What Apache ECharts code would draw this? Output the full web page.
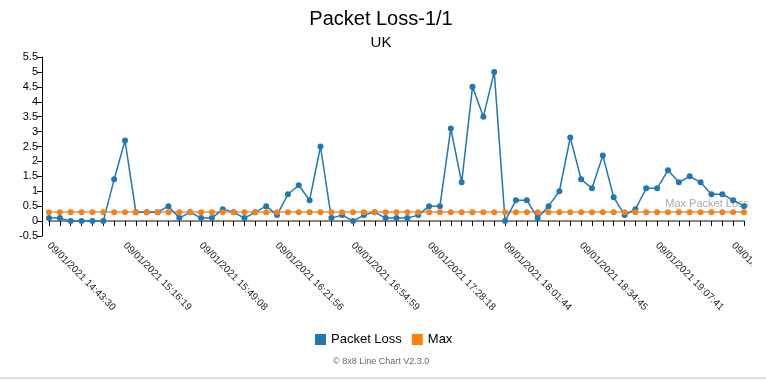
<!DOCTYPE html>
<html>
<head>
<meta charset="utf-8">
<script src="https://cdn.jsdelivr.net/npm/echarts@6/dist/echarts.min.js"></script>
<style>html,body{margin:0;padding:0;background:#fff;}#c{width:766px;height:382px;}</style>
</head>
<body>
<div id="c"></div>
<script>
var times = [
 '09/01/2021 14:43:30','09/01/2021 14:48:11','09/01/2021 14:52:53','09/01/2021 14:57:34','09/01/2021 15:02:15','09/01/2021 15:06:57','09/01/2021 15:11:38',
 '09/01/2021 15:16:19','09/01/2021 15:21:00','09/01/2021 15:25:42','09/01/2021 15:30:23','09/01/2021 15:35:04','09/01/2021 15:39:46','09/01/2021 15:44:27',
 '09/01/2021 15:49:08','09/01/2021 15:53:49','09/01/2021 15:58:30','09/01/2021 16:03:12','09/01/2021 16:07:53','09/01/2021 16:12:34','09/01/2021 16:17:15',
 '09/01/2021 16:21:56','09/01/2021 16:26:39','09/01/2021 16:31:23','09/01/2021 16:36:06','09/01/2021 16:40:50','09/01/2021 16:45:33','09/01/2021 16:50:16',
 '09/01/2021 16:54:59','09/01/2021 16:59:45','09/01/2021 17:04:30','09/01/2021 17:09:16','09/01/2021 17:14:01','09/01/2021 17:18:47','09/01/2021 17:23:32',
 '09/01/2021 17:28:18','09/01/2021 17:33:05','09/01/2021 17:37:51','09/01/2021 17:42:38','09/01/2021 17:47:24','09/01/2021 17:52:11','09/01/2021 17:56:58',
 '09/01/2021 18:01:44','09/01/2021 18:06:27','09/01/2021 18:11:10','09/01/2021 18:15:53','09/01/2021 18:20:36','09/01/2021 18:25:19','09/01/2021 18:30:02',
 '09/01/2021 18:34:45','09/01/2021 18:39:27','09/01/2021 18:44:10','09/01/2021 18:48:52','09/01/2021 18:53:34','09/01/2021 18:58:17','09/01/2021 19:02:59',
 '09/01/2021 19:07:41','09/01/2021 19:12:23','09/01/2021 19:17:05','09/01/2021 19:21:47','09/01/2021 19:26:29','09/01/2021 19:31:11','09/01/2021 19:35:53',
 '09/01/2021 19:40:35','09/01/2021 19:45:17'
];
var packetLoss = [
 0.1,0.1,0,0,0,0,1.4,
 2.7,0.3,0.3,0.3,0.5,0.1,0.3,
 0.1,0.1,0.4,0.3,0.1,0.3,0.5,
 0.2,0.9,1.2,0.7,2.5,0.1,0.2,
 0,0.2,0.3,0.1,0.1,0.1,0.2,
 0.5,0.5,3.1,1.3,4.5,3.5,5.0,
 0,0.7,0.7,0.1,0.5,1.0,2.8,
 1.4,1.1,2.2,0.8,0.2,0.4,1.1,
 1.1,1.7,1.3,1.5,1.3,0.9,0.9,
 0.7,0.5
];
var maxValue = 0.3;
var maxSeries = times.map(function(){ return maxValue; });
var yMin = -0.5, yMax = 5.5, yStep = 0.5;

var FONT = 'Liberation Sans, Arial, sans-serif';
var chart = echarts.init(document.getElementById('c'), null, {renderer:'canvas'});
chart.setOption({
  animation: false,
  backgroundColor: '#fff',
  textStyle: {fontFamily: FONT},
  title: {
    text: 'Packet Loss-1/1',
    subtext: 'UK',
    left: 376, textAlign: 'center', top: 4,
    itemGap: 6,
    textStyle: {fontSize: 20, fontWeight: 'normal', color: '#000', fontFamily: FONT},
    subtextStyle: {fontSize: 15, color: '#000', fontFamily: FONT}
  },
  legend: {
    data: ['Packet Loss','Max'],
    left: 310, top: 328,
    itemWidth: 11, itemHeight: 11, itemGap: 10, icon: 'rect',
    textStyle: {fontSize: 13, color: '#000', fontFamily: FONT}
  },
  grid: {left: 49, right: 22, top: 57, bottom: 146, containLabel: false, outerBoundsMode: 'none'},
  xAxis: {
    type: 'category', data: times, boundaryGap: false,
    axisLine: {lineStyle: {color: '#888', width: 2}},
    axisTick: {show: true, interval: 0, length: 5, lineStyle: {color: '#000'}},
    axisLabel: {interval: 6, rotate: -45, fontSize: 10, color: '#222', margin: 8, fontFamily: FONT, hideOverlap: false},
    splitLine: {show: false}
  },
  yAxis: {
    type: 'value', min: yMin, max: yMax, interval: yStep, offset: 7,
    axisLine: {show: true, lineStyle: {color: '#000', width: 1}},
    axisTick: {show: true, length: 5, lineStyle: {color: '#000'}},
    axisLabel: {fontSize: 11, color: '#000', margin: 4, fontFamily: FONT},
    splitLine: {show: false}
  },
  series: [
    {
      name: 'Packet Loss', type: 'line', data: packetLoss,
      color: '#1f77b4', symbol: 'circle', symbolSize: 6, showAllSymbol: true,
      lineStyle: {width: 1.5, color: '#1f77b4'},
      itemStyle: {color: '#1f77b4'}, z: 2, clip: false
    },
    {
      name: 'Max', type: 'line', data: maxSeries, clip: false,
      color: '#ff7f0e', symbol: 'circle', symbolSize: 6, showAllSymbol: true,
      lineStyle: {width: 0, opacity: 0},
      itemStyle: {color: '#ff7f0e'}, z: 3,
      markLine: {
        silent: true, symbol: 'none', z: 1,
        lineStyle: {color: '#c8b8a8', width: 2, type: 'solid'},
        label: {show: true, position: 'insideEndTop', formatter: 'Max Packet Loss', color: '#aaa', fontSize: 11, distance: [-5, 3], overflow: 'none', width: 120},
        data: [{yAxis: maxValue}]
      }
    }
  ],
  graphic: [
    {type: 'rect', left: 752, top: 238, shape: {width: 14, height: 90}, style: {fill: '#fff'}, z: 100},
    {type: 'text', left: 333, top: 357, style: {text: '\u00a9 8x8 Line Chart V2.3.0', fill: '#666', fontSize: 9, fontFamily: FONT}, z: 100},
    {type: 'rect', left: 0, top: 377, shape: {width: 766, height: 2}, style: {fill: '#ddd'}, z: 100}
  ]
});
</script>
</body>
</html>
